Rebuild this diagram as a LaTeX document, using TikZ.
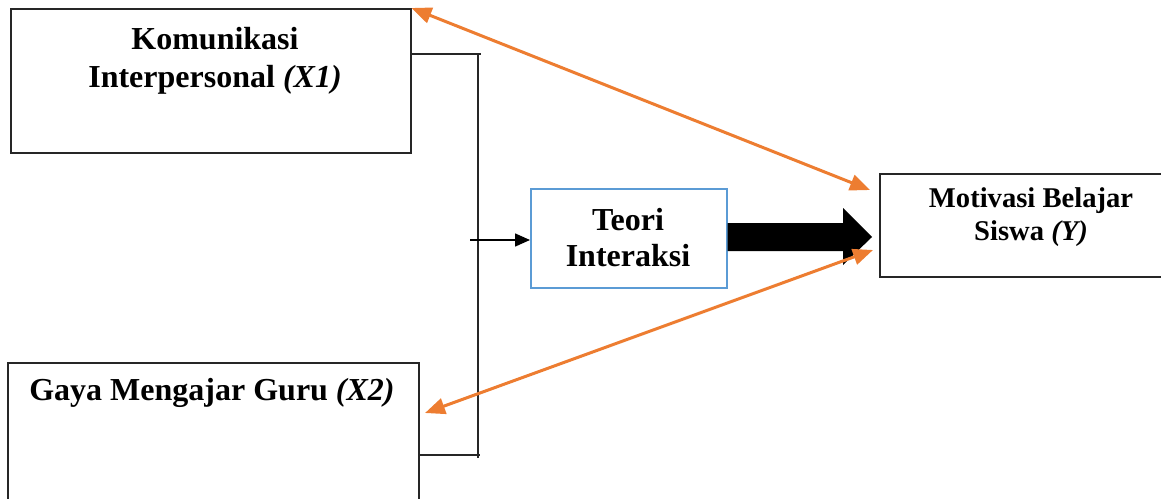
\documentclass[tikz,border=0pt]{standalone}
\usepackage{fontspec}
\setmainfont{Liberation Serif}
\usetikzlibrary{arrows.meta,calc}
\definecolor{orng}{HTML}{ED7D31}
\definecolor{blu}{HTML}{5B9BD5}
\tikzset{
  box/.style={draw=black!85, line width=1.5pt, rectangle, inner sep=0pt},
  lbl/.style={font=\bfseries\fontsize{32}{38}\selectfont, align=center, inner sep=0pt},
  lbls/.style={font=\bfseries\fontsize{28.6}{33}\selectfont, align=center, inner sep=0pt},
  brk/.style={draw=black!85, line width=1.5pt},
  oarrow/.style={draw=orng, line width=3pt, {Triangle[length=20pt,width=16pt]}-{Triangle[length=20pt,width=16pt]}},
}
\begin{document}
\begin{tikzpicture}[x=1pt,y=-1pt]
\useasboundingbox (0,0) rectangle (1161,498);
% boxes
\node[box, minimum width=400pt, minimum height=144pt, anchor=north west] (x1) at (10,8) {};
\node[box, minimum width=411pt, minimum height=170pt, anchor=north west] (x2) at (7,362) {};
\node[box, draw=blu, minimum width=196pt, minimum height=99pt, anchor=north west, lbl] (teori) at (530,188) {};
\node[lbl, font=\bfseries\fontsize{32}{36}\selectfont] (teoritxt) at (628,238) {Teori\\Interaksi};
\node[box, minimum width=300pt, minimum height=103pt, anchor=north west] (y) at (879,173) {};
% labels
\node[lbl, anchor=north] (x1txt) at (215,27) {Komunikasi\\Interpersonal \textit{(X1)}};
\node[lbl, anchor=north] (x2txt) at (212,378) {Gaya Mengajar Guru \textit{(X2)}};
\node[lbls] (ytxt) at (1031,217) {Motivasi Belajar\\Siswa \textit{(Y)}};
% bracket
\coordinate (b1) at (478,54);
\coordinate (b2) at (478,458);
\coordinate (b3) at (480,455);
\coordinate (bm) at (470,240);
\draw[brk] (x1.east |- b1) -- (b1 -| 481,0) ;
\draw[brk] (b1) -- (b2);
\draw[brk] (x2.east |- b3) -- (b3);
\draw[brk, draw=black, -{Triangle[length=15pt,width=13pt]}] (bm) -- (teori.west |- bm);
% big arrow
\fill[black] (teori.east |- 0,223) -- (843,223) -- (843,208) -- (872,237) -- (843,265) -- (843,251) -- (teori.east |- 0,251) -- cycle;
% orange arrows
\coordinate (ya) at (870,190);
\coordinate (yb) at (873,250);
\coordinate (xa) at (425,413);
\draw[oarrow] (x1.north east) -- (ya);
\draw[oarrow] (xa) -- (yb);
\end{tikzpicture}
\end{document}
